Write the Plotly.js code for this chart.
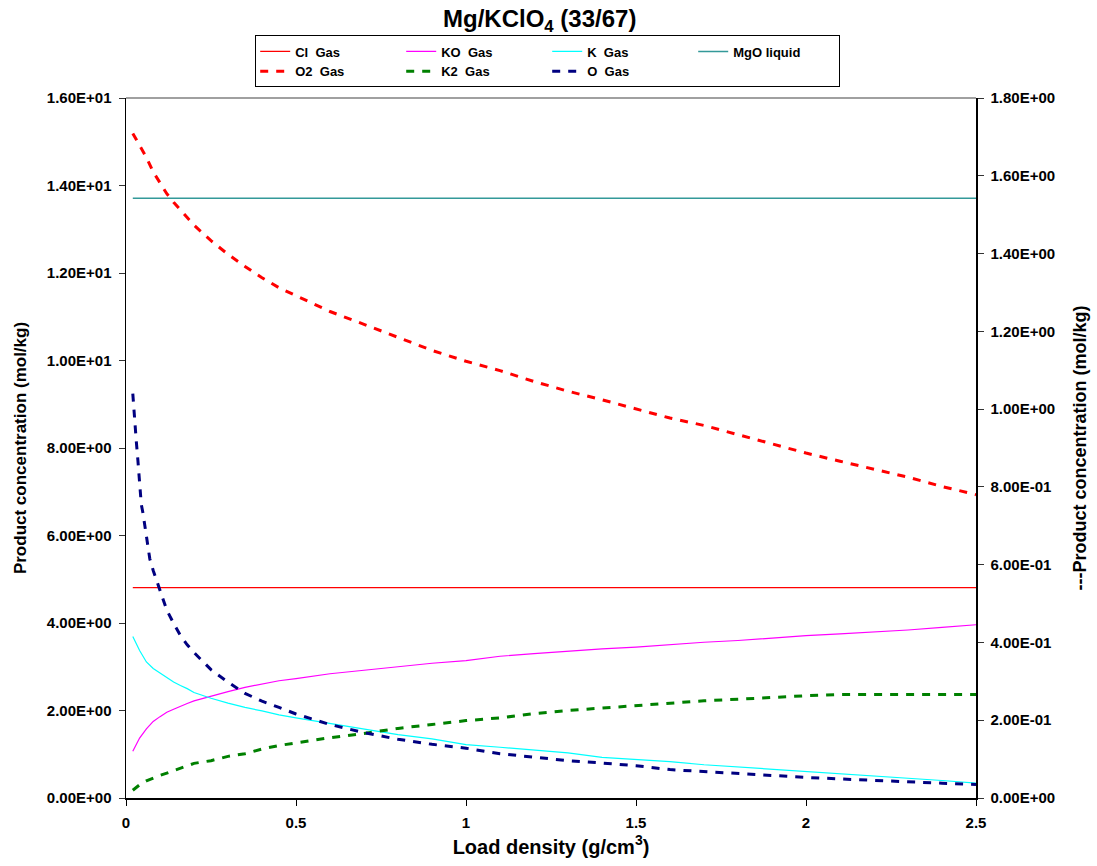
<!DOCTYPE html>
<html>
<head>
<meta charset="utf-8">
<script src="https://cdn.plot.ly/plotly-3.0.1.min.js"></script>
<style>html,body{margin:0;padding:0;background:#fff}#chart{width:1097px;height:866px}</style>
</head>
<body>
<div id="chart"></div>
<script>
// Load density (g/cm3)
const loadDensity = [0.02,0.04,0.06,0.08,0.10,0.12,0.14,0.16,0.18,0.2,0.25,0.3,0.35,0.4,0.45,0.5,0.6,0.7,0.8,0.9,1.0,1.1,1.2,1.3,1.4,1.5,1.6,1.7,1.8,1.9,2.0,2.1,2.2,2.3,2.4,2.5];
const loadDensityO = [0.02,0.025,0.03,0.035,0.04,0.045,0.05,0.06,0.07,0.08,0.10,0.12,0.14,0.16,0.18,0.2,0.25,0.3,0.35,0.4,0.45,0.5,0.6,0.7,0.8,0.9,1.0,1.1,1.2,1.3,1.4,1.5,1.6,1.7,1.8,1.9,2.0,2.1,2.2,2.3,2.4,2.5];

// Left axis series (mol/kg)
const clGas = loadDensity.map(() => 4.81);
const mgoLiquid = loadDensity.map(() => 13.71);
const koGas = [1.07,1.37,1.58,1.75,1.86,1.96,2.03,2.10,2.16,2.22,2.33,2.43,2.53,2.61,2.68,2.73,2.84,2.92,3.00,3.08,3.14,3.24,3.30,3.36,3.41,3.45,3.51,3.56,3.60,3.66,3.71,3.75,3.79,3.84,3.90,3.96];
const kGas = [3.69,3.37,3.11,2.96,2.86,2.75,2.65,2.57,2.50,2.41,2.28,2.17,2.07,1.99,1.90,1.83,1.70,1.58,1.45,1.35,1.22,1.16,1.10,1.03,0.93,0.88,0.83,0.76,0.71,0.66,0.61,0.56,0.51,0.46,0.40,0.34];

// Right axis series (mol/kg)
const o2Gas = [1.709,1.677,1.647,1.610,1.583,1.554,1.532,1.512,1.493,1.473,1.433,1.398,1.367,1.338,1.312,1.291,1.251,1.218,1.184,1.151,1.123,1.099,1.071,1.046,1.024,1.000,0.977,0.958,0.935,0.910,0.887,0.866,0.846,0.825,0.801,0.780];
const k2Gas = [0.020,0.034,0.044,0.052,0.058,0.064,0.070,0.078,0.084,0.089,0.096,0.107,0.114,0.126,0.135,0.142,0.155,0.166,0.179,0.189,0.199,0.206,0.217,0.225,0.231,0.237,0.243,0.250,0.254,0.259,0.263,0.266,0.266,0.266,0.266,0.266];
const oGas = [1.04,0.97,0.92,0.868,0.80,0.755,0.732,0.67,0.615,0.585,0.535,0.483,0.449,0.418,0.394,0.374,0.330,0.298,0.269,0.249,0.233,0.216,0.189,0.168,0.151,0.138,0.128,0.114,0.105,0.096,0.090,0.083,0.073,0.068,0.062,0.057,0.053,0.049,0.045,0.041,0.038,0.035];

// Tick labels
const xTickVals = [0,0.5,1,1.5,2,2.5];
const xTickText = ["0","0.5","1","1.5","2","2.5"];
const yLeftVals = [0,2,4,6,8,10,12,14,16];
const yLeftText = ["0.00E+00","2.00E+00","4.00E+00","6.00E+00","8.00E+00","1.00E+01","1.20E+01","1.40E+01","1.60E+01"];
const yRightVals = [0,0.2,0.4,0.6,0.8,1.0,1.2,1.4,1.6,1.8];
const yRightText = ["0.00E+00","2.00E-01","4.00E-01","6.00E-01","8.00E-01","1.00E+00","1.20E+00","1.40E+00","1.60E+00","1.80E+00"];

const F = "Liberation Sans, Arial, sans-serif";

// legend columns: each legendgroup is one column of the two-row legend
const traces = [
  {name:"Cl  Gas", legendgroup:"c1", x:loadDensity, y:clGas, yaxis:"y", mode:"lines", line:{color:"#FF0000", width:1.2}},
  {name:"KO  Gas", legendgroup:"c2", x:loadDensity, y:koGas, yaxis:"y", mode:"lines", line:{color:"#FF00FF", width:1.2}},
  {name:"K  Gas", legendgroup:"c3", x:loadDensity, y:kGas, yaxis:"y", mode:"lines", line:{color:"#00FFFF", width:1.2}},
  {name:"MgO liquid", legendgroup:"c4", x:loadDensity, y:mgoLiquid, yaxis:"y", mode:"lines", line:{color:"#339999", width:1.6}},
  {name:"O2  Gas", legendgroup:"c1", x:loadDensity, y:o2Gas, yaxis:"y2", mode:"lines", line:{color:"#FF0000", width:3, dash:"8px,8px"}},
  {name:"K2  Gas", legendgroup:"c2", x:loadDensity, y:k2Gas, yaxis:"y2", mode:"lines", line:{color:"#008000", width:3, dash:"8px,8px"}},
  {name:"O  Gas", legendgroup:"c3", x:loadDensityO, y:oGas, yaxis:"y2", mode:"lines", line:{color:"#000080", width:3, dash:"8px,8px"}}
];

const layout = {
  width:1097, height:866,
  paper_bgcolor:"#fff", plot_bgcolor:"#fff",
  margin:{l:126, r:121, t:98, b:68, pad:0},
  font:{family:F, color:"#000"},
  title:{text:"Mg/KClO<sub>4</sub> (33/67)", x:0.492, xanchor:"center", y:0.979, yanchor:"middle",
         font:{family:F, size:24, weight:"bold", color:"#000"}},
  showlegend:true,
  legend:{orientation:"h", traceorder:"grouped", x:0.152, xanchor:"left", y:1.0893, yanchor:"top",
          bordercolor:"#000", borderwidth:1, bgcolor:"#fff",
          entrywidth:101, entrywidthmode:"pixels", tracegroupgap:0,
          font:{family:F, size:13, weight:"bold", color:"#000"}},
  xaxis:{range:[0,2.5], tickvals:xTickVals, ticktext:xTickText, ticks:"outside", ticklen:6, tickcolor:"#000",
         showline:true, linecolor:"#000", linewidth:1.5, showgrid:false, zeroline:false,
         ticklabelstandoff:4,
         tickfont:{family:F, size:15, weight:"bold"},
         title:{text:"Load density (g/cm<sup>3</sup>)", standoff:10, font:{family:F, size:20, weight:"bold"}}},
  yaxis:{range:[0,16], tickvals:yLeftVals, ticktext:yLeftText, ticks:"outside", ticklen:6, tickcolor:"#333",
         showline:true, linecolor:"#000", linewidth:1.5, showgrid:false, zeroline:false,
         ticklabelstandoff:4,
         tickfont:{family:F, size:15, weight:"bold"},
         title:{text:"Product concentration (mol/kg)", standoff:16, font:{family:F, size:17, weight:"bold"}}},
  yaxis2:{range:[0,1.8], overlaying:"y", side:"right", tickvals:yRightVals, ticktext:yRightText,
          ticks:"outside", ticklen:6, tickcolor:"#333",
          showline:true, linecolor:"#000", linewidth:1.5, showgrid:false, zeroline:false,
          ticklabelstandoff:4,
          tickfont:{family:F, size:15, weight:"bold"},
          title:{text:"---Product concentration (mol/kg)", standoff:19, font:{family:F, size:18, weight:"bold"}}},
  shapes:[{type:"line", xref:"paper", yref:"paper", x0:0, x1:1, y0:1, y1:1, line:{color:"#808080", width:1.5}}]
};

Plotly.newPlot("chart", traces, layout, {displayModeBar:false, staticPlot:true});
</script>
</body>
</html>
